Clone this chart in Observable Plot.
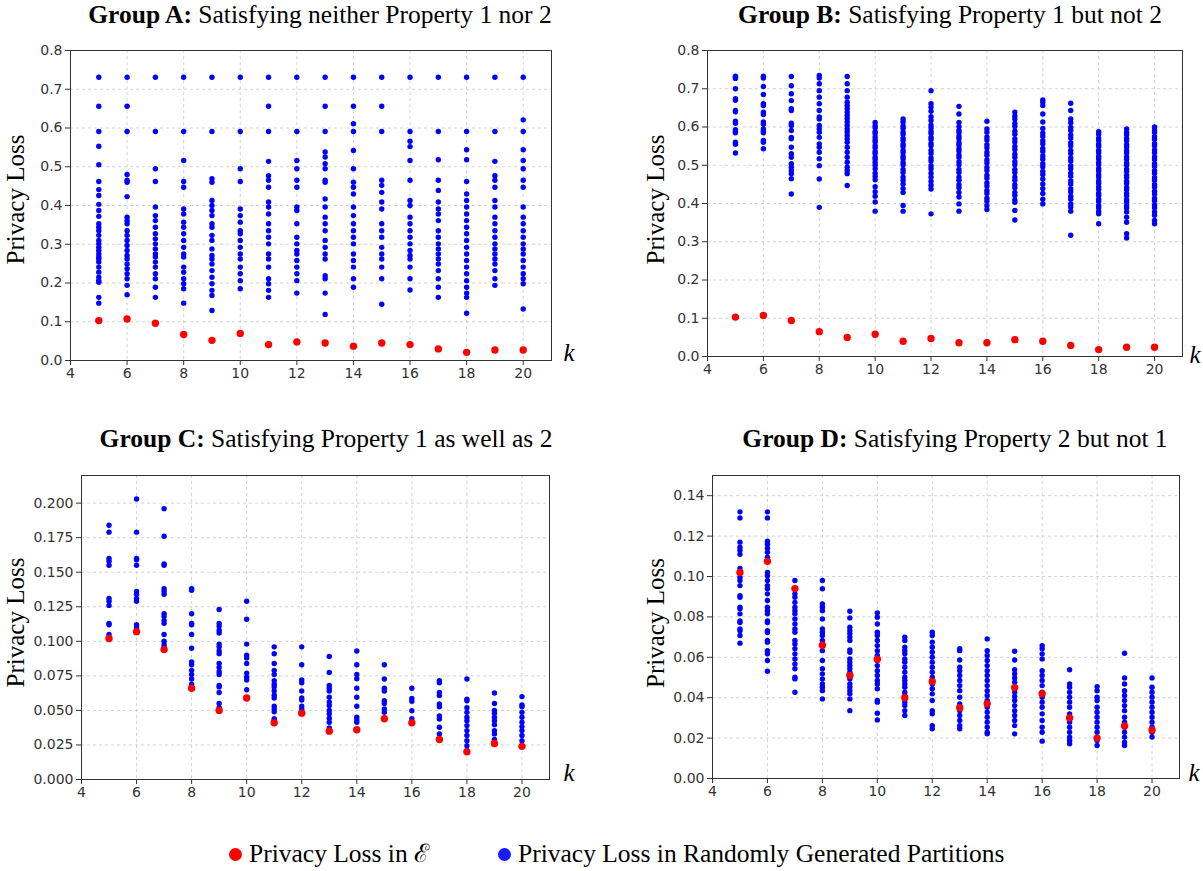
<!DOCTYPE html>
<html><head><meta charset="utf-8">
<script src="https://cdn.jsdelivr.net/npm/d3@7"></script>
<script src="https://cdn.jsdelivr.net/npm/@observablehq/plot@0.6"></script>
<style>
body{margin:0;background:#fff;}
#root{position:relative;width:1203px;height:871px;overflow:hidden;background:#fff;font-family:"Liberation Serif","Times New Roman",serif;color:#000;}
.panel{position:absolute;}
.panel svg{overflow:visible;}
.title{position:absolute;white-space:nowrap;font-size:25.5px;line-height:26px;transform:translateX(-50%);}
.leg{position:absolute;white-space:nowrap;font-size:25.5px;line-height:26px;display:flex;align-items:center;}
.leg .dot{display:inline-block;width:13px;height:13px;border-radius:50%;margin-right:7px;}
</style>
</head><body>
<div id="root"></div>
<script>
const ks = [5,6,7,8,9,10,11,12,13,14,15,16,17,18,19,20];
const xTicks = [4,6,8,10,12,14,16,18,20];

const redA = [0.103,0.107,0.096,0.067,0.052,0.070,0.041,0.048,0.045,0.037,0.045,0.041,0.030,0.021,0.027,0.027];
const redB = [0.103,0.107,0.094,0.065,0.050,0.058,0.040,0.047,0.036,0.036,0.044,0.040,0.029,0.018,0.024,0.024];
const redC = [0.102,0.107,0.094,0.066,0.050,0.059,0.041,0.048,0.035,0.036,0.044,0.041,0.029,0.020,0.026,0.024];
const redD = [0.102,0.1075,0.094,0.066,0.051,0.059,0.040,0.048,0.035,0.037,0.045,0.042,0.030,0.020,0.026,0.024];

const blueA = [
 [0.731,0.656,0.591,0.553,0.505,0.462,0.441,0.426,0.403,0.387,0.372,0.353,0.344,0.335,0.323,0.31,0.301,0.292,0.284,0.275,0.267,0.262,0.254,0.241,0.228,0.215,0.206,0.202,0.163,0.148],
 [0.731,0.656,0.591,0.48,0.465,0.46,0.423,0.37,0.361,0.353,0.335,0.323,0.31,0.297,0.284,0.271,0.262,0.249,0.237,0.224,0.211,0.194,0.17],
 [0.731,0.591,0.495,0.462,0.396,0.374,0.361,0.344,0.327,0.314,0.301,0.288,0.275,0.267,0.254,0.241,0.224,0.211,0.189,0.163],
 [0.731,0.591,0.516,0.462,0.447,0.391,0.378,0.357,0.344,0.327,0.31,0.292,0.275,0.267,0.241,0.228,0.211,0.198,0.185,0.148],
 [0.731,0.591,0.469,0.46,0.413,0.4,0.387,0.374,0.353,0.344,0.323,0.31,0.288,0.271,0.262,0.249,0.232,0.215,0.198,0.181,0.168,0.129],
 [0.731,0.591,0.495,0.462,0.391,0.374,0.357,0.335,0.327,0.31,0.292,0.275,0.262,0.241,0.224,0.206,0.185],
 [0.731,0.656,0.591,0.514,0.477,0.465,0.447,0.409,0.396,0.378,0.353,0.335,0.318,0.301,0.275,0.262,0.241,0.211,0.198,0.181,0.163],
 [0.731,0.591,0.516,0.495,0.465,0.447,0.396,0.387,0.353,0.318,0.301,0.284,0.275,0.258,0.241,0.224,0.206,0.174],
 [0.731,0.656,0.591,0.538,0.525,0.508,0.495,0.465,0.46,0.417,0.396,0.37,0.353,0.335,0.31,0.292,0.275,0.262,0.219,0.211,0.174,0.119],
 [0.731,0.656,0.611,0.591,0.542,0.495,0.46,0.447,0.43,0.396,0.374,0.353,0.335,0.318,0.301,0.275,0.258,0.241,0.211,0.189],
 [0.731,0.656,0.591,0.465,0.452,0.434,0.409,0.391,0.353,0.335,0.318,0.292,0.275,0.262,0.241,0.211,0.145],
 [0.731,0.591,0.566,0.552,0.516,0.465,0.413,0.4,0.37,0.353,0.335,0.318,0.301,0.284,0.271,0.262,0.241,0.211,0.182],
 [0.731,0.591,0.518,0.465,0.439,0.409,0.391,0.378,0.361,0.335,0.318,0.301,0.288,0.275,0.262,0.249,0.232,0.211,0.189,0.163],
 [0.731,0.591,0.544,0.518,0.462,0.43,0.413,0.396,0.378,0.361,0.344,0.327,0.31,0.292,0.275,0.258,0.241,0.224,0.206,0.189,0.174,0.163,0.122],
 [0.731,0.591,0.514,0.477,0.465,0.447,0.413,0.396,0.37,0.353,0.335,0.318,0.301,0.288,0.275,0.262,0.249,0.232,0.211,0.194],
 [0.731,0.621,0.591,0.544,0.516,0.495,0.465,0.447,0.396,0.37,0.353,0.335,0.318,0.301,0.288,0.275,0.258,0.241,0.224,0.211,0.198,0.133]
];

const blueB = [
 [0.733,0.73,0.727,0.70,0.674,0.67,0.643,0.64,0.615,0.61,0.593,0.588,0.585,0.56,0.555,0.532],
 [0.733,0.728,0.706,0.685,0.661,0.656,0.639,0.633,0.613,0.607,0.595,0.589,0.585,0.565,0.56,0.543],
 [0.732,0.708,0.687,0.669,0.648,0.643,0.61,0.604,0.591,0.573,0.569,0.547,0.53,0.521,0.504,0.495,0.486,0.478,0.465,0.425],
 [0.735,0.728,0.713,0.695,0.678,0.661,0.643,0.626,0.621,0.604,0.595,0.586,0.573,0.556,0.547,0.534,0.517,0.499,0.464,0.39],
 [0.732,0.713,0.695,0.678,0.665,0.656,0.648,0.639,0.63,0.622,0.613,0.604,0.595,0.587,0.578,0.569,0.56,0.547,0.534,0.521,0.508,0.495,0.486,0.478,0.447],
 [0.612,0.603,0.598,0.588,0.583,0.574,0.566,0.561,0.551,0.546,0.536,0.531,0.521,0.516,0.507,0.5,0.491,0.479,0.471,0.462,0.444,0.431,0.419,0.404,0.38],
 [0.621,0.613,0.603,0.597,0.587,0.581,0.571,0.565,0.555,0.549,0.539,0.533,0.523,0.517,0.507,0.501,0.489,0.481,0.469,0.461,0.451,0.439,0.429,0.395,0.38],
 [0.695,0.661,0.652,0.641,0.627,0.617,0.605,0.598,0.589,0.583,0.573,0.567,0.557,0.551,0.539,0.531,0.519,0.511,0.499,0.491,0.479,0.469,0.458,0.448,0.438,0.373],
 [0.654,0.634,0.612,0.601,0.591,0.585,0.575,0.569,0.559,0.553,0.543,0.537,0.527,0.521,0.509,0.501,0.489,0.481,0.469,0.461,0.449,0.441,0.429,0.417,0.399,0.38],
 [0.615,0.595,0.586,0.574,0.566,0.554,0.546,0.534,0.526,0.514,0.506,0.494,0.486,0.474,0.466,0.454,0.446,0.434,0.426,0.414,0.406,0.394,0.384],
 [0.639,0.629,0.621,0.609,0.601,0.589,0.581,0.569,0.561,0.549,0.541,0.529,0.521,0.509,0.501,0.489,0.481,0.469,0.461,0.449,0.441,0.429,0.421,0.409,0.403,0.382,0.357],
 [0.671,0.665,0.656,0.634,0.613,0.596,0.584,0.576,0.564,0.556,0.544,0.536,0.524,0.516,0.504,0.496,0.484,0.476,0.464,0.451,0.439,0.426,0.411,0.399],
 [0.662,0.643,0.621,0.611,0.599,0.591,0.579,0.571,0.559,0.551,0.539,0.531,0.519,0.511,0.499,0.491,0.479,0.471,0.459,0.451,0.439,0.431,0.419,0.411,0.399,0.391,0.38,0.317],
 [0.588,0.581,0.571,0.565,0.555,0.549,0.539,0.533,0.523,0.517,0.507,0.501,0.491,0.485,0.475,0.469,0.459,0.453,0.443,0.437,0.427,0.421,0.411,0.405,0.395,0.389,0.379,0.373,0.347],
 [0.595,0.586,0.58,0.57,0.564,0.554,0.548,0.538,0.532,0.522,0.516,0.506,0.5,0.49,0.484,0.474,0.468,0.458,0.452,0.442,0.436,0.426,0.42,0.41,0.404,0.394,0.388,0.378,0.364,0.351,0.321,0.31],
 [0.6,0.592,0.586,0.575,0.568,0.557,0.551,0.54,0.533,0.522,0.515,0.504,0.497,0.486,0.479,0.468,0.461,0.45,0.443,0.432,0.425,0.414,0.407,0.396,0.389,0.378,0.369,0.356,0.347]
];

const blueC = [
 [0.184,0.179,0.160,0.158,0.155,0.131,0.129,0.126,0.113,0.112,0.105],
 [0.203,0.179,0.160,0.159,0.155,0.136,0.134,0.131,0.129,0.112,0.110],
 [0.196,0.176,0.156,0.155,0.138,0.136,0.134,0.120,0.118,0.115,0.113,0.105,0.100,0.0975,0.0955],
 [0.138,0.137,0.120,0.113,0.112,0.105,0.095,0.085,0.083,0.079,0.076,0.0727,0.069],
 [0.123,0.113,0.111,0.108,0.106,0.098,0.096,0.093,0.091,0.084,0.081,0.078,0.076,0.068,0.067,0.063,0.055,0.052],
 [0.129,0.116,0.098,0.090,0.088,0.084,0.077,0.074,0.072,0.065],
 [0.096,0.091,0.084,0.079,0.076,0.0715,0.069,0.067,0.064,0.061,0.059,0.053,0.051,0.049,0.044,0.043],
 [0.096,0.083,0.072,0.070,0.064,0.059,0.0575,0.053,0.051],
 [0.089,0.0775,0.068,0.066,0.064,0.0595,0.056,0.0535,0.050,0.0475,0.0443,0.0414,0.0373],
 [0.093,0.083,0.076,0.073,0.066,0.0595,0.053,0.045,0.043,0.0414],
 [0.083,0.0727,0.066,0.064,0.057,0.055,0.051,0.0486],
 [0.066,0.0587,0.0566,0.0498,0.044],
 [0.0715,0.070,0.063,0.0607,0.0546,0.0527,0.046,0.0438,0.0378,0.033],
 [0.0727,0.0582,0.057,0.052,0.0486,0.045,0.0426,0.039,0.0354,0.0318,0.028,0.0245,0.021],
 [0.0626,0.055,0.050,0.048,0.045,0.0426,0.0397,0.0354,0.033,0.029],
 [0.060,0.054,0.0527,0.0486,0.045,0.0414,0.0383,0.0354,0.0318,0.028]
];

const blueD = [
 [0.132,0.129,0.117,0.1145,0.113,0.111,0.104,0.0996,0.098,0.0955,0.0905,0.0897,0.0848,0.084,0.0815,0.078,0.0772,0.074,0.0732,0.0708,0.067],
 [0.132,0.129,0.1175,0.116,0.114,0.112,0.1095,0.102,0.1004,0.098,0.0955,0.0939,0.0914,0.0881,0.0848,0.0831,0.0815,0.078,0.0772,0.0732,0.0723,0.0683,0.0675,0.0633,0.0617,0.0584,0.0531],
 [0.098,0.0914,0.0897,0.0872,0.0848,0.0831,0.0815,0.079,0.0765,0.074,0.0724,0.0683,0.0666,0.0642,0.0617,0.0592,0.0567,0.0543,0.0501,0.0493,0.0427],
 [0.098,0.0939,0.0864,0.0848,0.0831,0.079,0.074,0.0724,0.0708,0.0683,0.0633,0.0584,0.0543,0.0518,0.0493,0.0468,0.0452,0.0435,0.0394],
 [0.0828,0.0795,0.0749,0.0732,0.0716,0.07,0.0683,0.0637,0.0625,0.0592,0.0576,0.0559,0.0543,0.0526,0.0493,0.0468,0.0452,0.0435,0.0419,0.0394,0.0336],
 [0.082,0.0798,0.0765,0.0724,0.0708,0.0683,0.0658,0.0633,0.0609,0.0584,0.0559,0.0534,0.051,0.0485,0.0468,0.0444,0.0386,0.0378,0.0323,0.029],
 [0.07,0.0683,0.065,0.0633,0.0617,0.0592,0.0576,0.0551,0.0526,0.0501,0.0485,0.0468,0.0452,0.0427,0.0411,0.0378,0.0361,0.0336,0.0312],
 [0.0724,0.0708,0.0675,0.065,0.0625,0.06,0.0576,0.0551,0.0526,0.0501,0.0468,0.0444,0.0419,0.0386,0.0336,0.032,0.0262,0.0246],
 [0.0642,0.0633,0.0587,0.0551,0.0534,0.051,0.0485,0.046,0.0435,0.0402,0.0369,0.0336,0.0312,0.0287,0.0262,0.0246],
 [0.0691,0.0633,0.0609,0.0584,0.0559,0.0534,0.051,0.0485,0.046,0.0435,0.0411,0.0386,0.0353,0.0328,0.0303,0.0279,0.0254,0.0229,0.0221],
 [0.063,0.0587,0.0538,0.0518,0.0498,0.0477,0.0452,0.0427,0.0406,0.0386,0.0361,0.0336,0.0312,0.0287,0.0262,0.0221],
 [0.0658,0.0642,0.0617,0.0592,0.0534,0.051,0.0485,0.046,0.0427,0.0402,0.0378,0.0353,0.032,0.0287,0.0254,0.0229,0.0185],
 [0.0538,0.0468,0.0452,0.0427,0.0402,0.0378,0.0353,0.032,0.0279,0.0254,0.0229,0.0205,0.0188,0.0172],
 [0.0455,0.0435,0.0402,0.0386,0.0353,0.0328,0.0303,0.0279,0.0254,0.0229,0.0188,0.0163],
 [0.062,0.0498,0.0468,0.0435,0.0411,0.0386,0.0361,0.0336,0.0303,0.0279,0.0254,0.0229,0.0205,0.018,0.0163],
 [0.0498,0.0452,0.0427,0.0402,0.0378,0.0353,0.0328,0.0303,0.0279,0.0254,0.0229,0.0205]
];

const yTicksAB = [0,0.1,0.2,0.3,0.4,0.5,0.6,0.7,0.8];
const yTicksC = [0,0.025,0.05,0.075,0.1,0.125,0.15,0.175,0.2];
const yTicksD = [0,0.02,0.04,0.06,0.08,0.1,0.12,0.14];

const titles = [
  ["Group A:", " Satisfying neither Property 1 nor 2"],
  ["Group B:", " Satisfying Property 1 but not 2"],
  ["Group C:", " Satisfying Property 1 as well as 2"],
  ["Group D:", " Satisfying Property 2 but not 1"]
];
const yLabel = "Privacy Loss";
const legendLabels = ["Privacy Loss in \u2130", "Privacy Loss in Randomly Generated Partitions"];

const serif = "Liberation Serif, Times New Roman, serif";

function makePanel(c) {
  const blueRows = ks.flatMap((k, i) => c.blue[i].map(v => ({k, v})));
  const redRows = ks.map((k, i) => ({k, v: c.red[i]}));
  const gridStyle = {stroke: "#c8c8c8", strokeOpacity: 1, strokeWidth: 0.8, strokeDasharray: "3,3"};
  return Plot.plot({
    width: c.width, height: c.height,
    marginLeft: c.ml, marginRight: c.mr, marginTop: c.mt, marginBottom: c.mb,
    style: {fontFamily: "DejaVu Sans, sans-serif", fontSize: "14px", color: "#333", background: "transparent", overflow: "visible"},
    x: {domain: [4, 21]},
    y: {domain: c.ydomain},
    marks: [
      Plot.gridX(xTicks, gridStyle),
      Plot.gridY(c.yticks, gridStyle),
      Plot.dot(blueRows, {x: "k", y: "v", r: 2.7, fill: "#0000ff"}),
      Plot.dot(redRows, {x: "k", y: "v", r: 3.7, fill: "#ff0000"}),
      Plot.frame({stroke: "#333", strokeWidth: 1}),
      Plot.axisX(xTicks, {tickSize: 5, tickPadding: 3, label: null, tickFormat: d => String(d)}),
      Plot.axisY(c.yticks, {tickSize: 5, tickPadding: 3, label: null, tickFormat: c.fmt}),
      Plot.text([yLabel], {text: d => d, frameAnchor: "left", rotate: -90, dx: c.ydx, dy: c.ydy, fontSize: 25, fontFamily: serif, fill: "#000", textAnchor: "middle", lineAnchor: "middle"}),
      Plot.text(["k"], {text: d => d, frameAnchor: "bottom-right", textAnchor: "start", lineAnchor: "bottom", dx: c.kdx, dy: c.kdy, fontSize: 25, fontStyle: "italic", fontFamily: serif, fill: "#000"})
    ]
  });
}

const root = document.getElementById("root");
const panels = [
  {left: 0, top: 0, width: 601, height: 395, ml: 70, mr: 50, mt: 50, mb: 35, blue: blueA, red: redA, ydomain: [0, 0.8], yticks: yTicksAB, fmt: d3.format(".1f"), ydx: -55, ydy: -6, kdx: 12, kdy: 0, tx: 320, ty: 2},
  {left: 601, top: 0, width: 602, height: 395, ml: 106, mr: 21, mt: 50, mb: 39, blue: blueB, red: redB, ydomain: [0, 0.8], yticks: yTicksAB, fmt: d3.format(".1f"), ydx: -52, ydy: -4, kdx: 7, kdy: 6, tx: 950, ty: 2},
  {left: 0, top: 420, width: 601, height: 390, ml: 81, mr: 52, mt: 55, mb: 31, blue: blueC, red: redC, ydomain: [0, 0.22], yticks: yTicksC, fmt: d3.format(".3f"), ydx: -66, ydy: -5, kdx: 14, kdy: 1, tx: 326, ty: 426},
  {left: 601, top: 420, width: 602, height: 390, ml: 111, mr: 24, mt: 55, mb: 32, blue: blueD, red: redD, ydomain: [0, 0.15], yticks: yTicksD, fmt: d3.format(".2f"), ydx: -57, ydy: -4, kdx: 9, kdy: 2, tx: 955, ty: 426}
];

panels.forEach((c, i) => {
  const div = document.createElement("div");
  div.className = "panel";
  div.style.left = c.left + "px";
  div.style.top = c.top + "px";
  div.appendChild(makePanel(c));
  root.appendChild(div);
  const t = document.createElement("div");
  t.className = "title";
  t.style.left = c.tx + "px";
  t.style.top = c.ty + "px";
  const b = document.createElement("b");
  b.textContent = titles[i][0];
  t.appendChild(b);
  t.appendChild(document.createTextNode(titles[i][1]));
  root.appendChild(t);
});

const legendColors = ["#ff0000", "#1a1aff"];
const legendX = [229, 498];
legendLabels.forEach((lab, i) => {
  const item = document.createElement("div");
  item.className = "leg";
  item.style.left = legendX[i] + "px";
  item.style.top = "841px";
  const d = document.createElement("span");
  d.className = "dot";
  d.style.background = legendColors[i];
  item.appendChild(d);
  item.appendChild(document.createTextNode(lab));
  root.appendChild(item);
});
</script>
</body></html>
